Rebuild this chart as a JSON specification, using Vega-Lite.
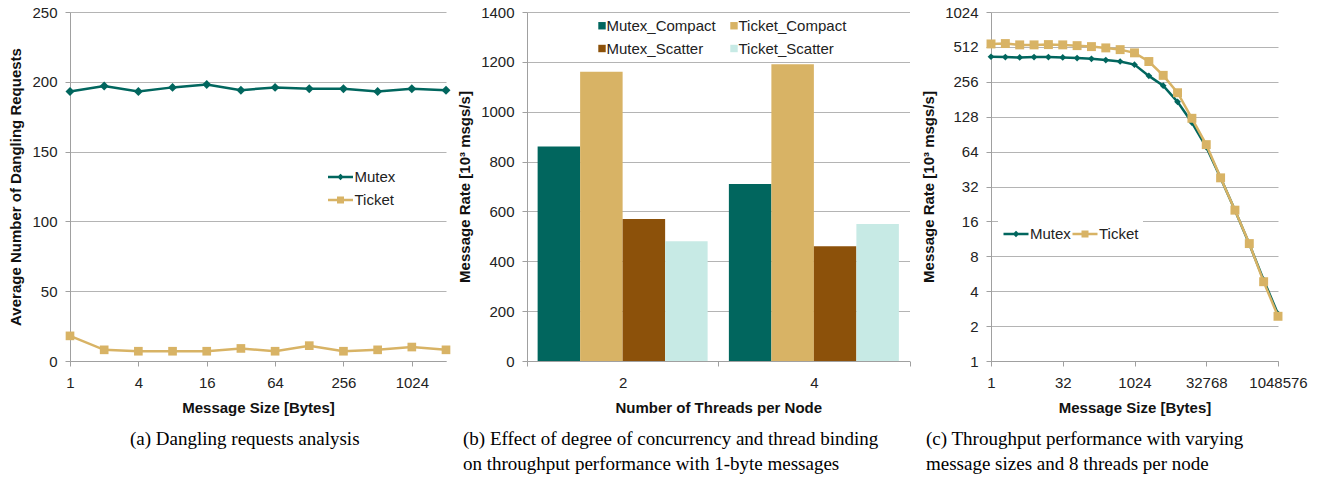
{
  "$schema": "https://vega.github.io/schema/vega-lite/v6.json",
  "background": "white",
  "padding": {"left": 8, "top": 5, "right": 5, "bottom": 5},
  "bounds": "flush",
  "spacing": 81,
  "resolve": {"scale": {"color": "independent", "shape": "independent"}, "legend": {"color": "independent", "shape": "independent"}},
  "config": {
    "font": "Liberation Sans",
    "view": {"stroke": null},
    "axis": {
      "labelFont": "Liberation Sans", "labelFontSize": 15, "labelColor": "#222",
      "titleFont": "Liberation Sans", "titleFontSize": 15, "titleFontWeight": "bold", "titleColor": "#111",
      "gridColor": "#b4b4b4", "gridWidth": 1, "domainColor": "#a0a0a0", "tickColor": "#a0a0a0", "tickSize": 5,
      "labelFlush": false
    },
    "axisY": {"labelPadding": 8, "titlePadding": 8},
    "axisX": {"labelPadding": 9, "titlePadding": 10, "labelAngle": 0},
    "legend": {"labelFont": "Liberation Sans", "labelFontSize": 15, "labelColor": "#222", "fillColor": "white"},
    "title": {"font": "Liberation Serif", "fontSize": 19, "fontWeight": "normal", "color": "#000", "orient": "bottom", "anchor": "start", "frame": "group", "lineHeight": 25, "offset": 15}
  },
  "hconcat": [
    {
      "width": 376, "height": 349,
      "title": {"text": "(a) Dangling requests analysis", "dx": 60},
      "data": {"values": [
        {"size": 1, "series": "Mutex", "value": 193}, {"size": 2, "series": "Mutex", "value": 197},
        {"size": 4, "series": "Mutex", "value": 193}, {"size": 8, "series": "Mutex", "value": 196},
        {"size": 16, "series": "Mutex", "value": 198}, {"size": 32, "series": "Mutex", "value": 194},
        {"size": 64, "series": "Mutex", "value": 196}, {"size": 128, "series": "Mutex", "value": 195},
        {"size": 256, "series": "Mutex", "value": 195}, {"size": 512, "series": "Mutex", "value": 193},
        {"size": 1024, "series": "Mutex", "value": 195}, {"size": 2048, "series": "Mutex", "value": 194},
        {"size": 1, "series": "Ticket", "value": 18}, {"size": 2, "series": "Ticket", "value": 8},
        {"size": 4, "series": "Ticket", "value": 7}, {"size": 8, "series": "Ticket", "value": 7},
        {"size": 16, "series": "Ticket", "value": 7}, {"size": 32, "series": "Ticket", "value": 9},
        {"size": 64, "series": "Ticket", "value": 7}, {"size": 128, "series": "Ticket", "value": 11},
        {"size": 256, "series": "Ticket", "value": 7}, {"size": 512, "series": "Ticket", "value": 8},
        {"size": 1024, "series": "Ticket", "value": 10}, {"size": 2048, "series": "Ticket", "value": 8}
      ]},
      "encoding": {
        "x": {"field": "size", "type": "quantitative", "scale": {"type": "log", "base": 2, "domain": [1, 2048], "nice": false},
              "axis": {"values": [1, 4, 16, 64, 256, 1024], "format": "d", "grid": false, "title": "Message Size [Bytes]"}},
        "y": {"field": "value", "type": "quantitative", "scale": {"domain": [0, 250], "nice": false},
              "axis": {"values": [0, 50, 100, 150, 200, 250], "format": "d", "title": "Average Number of Dangling Requests"}},
        "color": {"field": "series", "type": "nominal",
                  "scale": {"domain": ["Mutex", "Ticket"], "range": ["#01665e", "#d8b365"]},
                  "legend": {"orient": "none", "legendX": 252.5, "legendY": 147, "direction": "vertical", "title": null,
                             "symbolSize": 625, "symbolStrokeWidth": 2.5, "rowPadding": 1, "padding": 4, "labelOffset": 0}}
      },
      "layer": [
        {"transform": [{"filter": "datum.series === 'Mutex'"}], "mark": {"type": "line", "strokeWidth": 2.5}},
        {"transform": [{"filter": "datum.series === 'Mutex'"}], "mark": {"type": "point", "shape": "diamond", "filled": true, "size": 80, "opacity": 1}},
        {"transform": [{"filter": "datum.series === 'Ticket'"}], "mark": {"type": "line", "strokeWidth": 2.5}},
        {"transform": [{"filter": "datum.series === 'Ticket'"}], "mark": {"type": "point", "shape": "square", "filled": true, "size": 75, "opacity": 1}},
        {"transform": [{"filter": "false"}], "mark": {"type": "point", "filled": false, "opacity": 1, "strokeWidth": 2.5},
         "encoding": {"shape": {"field": "series", "type": "nominal",
           "scale": {"domain": ["Mutex", "Ticket"], "range": ["M-1,0H1M0,-0.12L0.12,0L0,0.12L-0.12,0Z", "M-1,0H1M-0.28,-0.18H0.28M-0.28,-0.09H0.28M-0.28,0.09H0.28M-0.28,0.18H0.28"]},
           "legend": {"orient": "none", "legendX": 252.5, "legendY": 147, "direction": "vertical", "title": null,
                      "symbolSize": 625, "symbolStrokeWidth": 2.5, "rowPadding": 1, "padding": 4, "labelOffset": 0}}}}
      ]
    },
    {
      "width": 382.5, "height": 349,
      "title": {"text": ["(b) Effect of degree of concurrency and thread binding", "on throughput performance with 1-byte messages"], "dx": -64},
      "data": {"values": [
        {"threads": "2", "series": "Mutex_Compact", "rate": 860},
        {"threads": "2", "series": "Ticket_Compact", "rate": 1160},
        {"threads": "2", "series": "Mutex_Scatter", "rate": 570},
        {"threads": "2", "series": "Ticket_Scatter", "rate": 480},
        {"threads": "4", "series": "Mutex_Compact", "rate": 710},
        {"threads": "4", "series": "Ticket_Compact", "rate": 1190},
        {"threads": "4", "series": "Mutex_Scatter", "rate": 460},
        {"threads": "4", "series": "Ticket_Scatter", "rate": 550}
      ]},
      "mark": {"type": "bar"},
      "encoding": {
        "x": {"field": "threads", "type": "ordinal", "scale": {"paddingInner": 0, "paddingOuter": 0},
              "axis": {"title": "Number of Threads per Node", "tickBand": "extent", "grid": false}},
        "xOffset": {"field": "series", "type": "nominal", "sort": ["Mutex_Compact", "Ticket_Compact", "Mutex_Scatter", "Ticket_Scatter"],
                    "scale": {"paddingInner": 0, "paddingOuter": 0.25}},
        "y": {"field": "rate", "type": "quantitative", "scale": {"domain": [0, 1400], "nice": false},
              "axis": {"values": [0, 200, 400, 600, 800, 1000, 1200, 1400], "format": "d", "title": "Message Rate [10³ msgs/s]"}},
        "color": {"field": "series", "type": "nominal",
                  "scale": {"domain": ["Mutex_Compact", "Mutex_Scatter", "Ticket_Compact", "Ticket_Scatter"],
                            "range": ["#01665e", "#8c510a", "#d8b365", "#c7eae5"]},
                  "legend": {"orient": "none", "legendX": 63.5, "legendY": 2, "columns": 2, "symbolType": "square", "title": null,
                             "symbolSize": 55, "rowPadding": 7, "columnPadding": 10, "padding": 4, "labelOffset": -3}}
      }
    },
    {
      "width": 287, "height": 349,
      "title": {"text": ["(c) Throughput performance with varying", "message sizes and 8 threads per node"], "dx": -65},
      "data": {"values": [
        {"size": 1, "series": "Mutex", "rate": 421}, {"size": 2, "series": "Mutex", "rate": 418},
        {"size": 4, "series": "Mutex", "rate": 415}, {"size": 8, "series": "Mutex", "rate": 418},
        {"size": 16, "series": "Mutex", "rate": 418}, {"size": 32, "series": "Mutex", "rate": 415},
        {"size": 64, "series": "Mutex", "rate": 410}, {"size": 128, "series": "Mutex", "rate": 404},
        {"size": 256, "series": "Mutex", "rate": 394}, {"size": 512, "series": "Mutex", "rate": 383},
        {"size": 1024, "series": "Mutex", "rate": 360}, {"size": 2048, "series": "Mutex", "rate": 288},
        {"size": 4096, "series": "Mutex", "rate": 237}, {"size": 8192, "series": "Mutex", "rate": 172},
        {"size": 16384, "series": "Mutex", "rate": 114}, {"size": 32768, "series": "Mutex", "rate": 70},
        {"size": 65536, "series": "Mutex", "rate": 38}, {"size": 131072, "series": "Mutex", "rate": 20},
        {"size": 262144, "series": "Mutex", "rate": 10.2}, {"size": 524288, "series": "Mutex", "rate": 5.0},
        {"size": 1048576, "series": "Mutex", "rate": 2.55},
        {"size": 1, "series": "Ticket", "rate": 543}, {"size": 2, "series": "Ticket", "rate": 547},
        {"size": 4, "series": "Ticket", "rate": 533}, {"size": 8, "series": "Ticket", "rate": 533},
        {"size": 16, "series": "Ticket", "rate": 536}, {"size": 32, "series": "Ticket", "rate": 533},
        {"size": 64, "series": "Ticket", "rate": 525}, {"size": 128, "series": "Ticket", "rate": 515},
        {"size": 256, "series": "Ticket", "rate": 502}, {"size": 512, "series": "Ticket", "rate": 485},
        {"size": 1024, "series": "Ticket", "rate": 455}, {"size": 2048, "series": "Ticket", "rate": 383},
        {"size": 4096, "series": "Ticket", "rate": 291}, {"size": 8192, "series": "Ticket", "rate": 206},
        {"size": 16384, "series": "Ticket", "rate": 124}, {"size": 32768, "series": "Ticket", "rate": 73.5},
        {"size": 65536, "series": "Ticket", "rate": 38}, {"size": 131072, "series": "Ticket", "rate": 20},
        {"size": 262144, "series": "Ticket", "rate": 10.3}, {"size": 524288, "series": "Ticket", "rate": 4.83},
        {"size": 1048576, "series": "Ticket", "rate": 2.43}
      ]},
      "encoding": {
        "x": {"field": "size", "type": "quantitative", "scale": {"type": "log", "base": 2, "domain": [1, 1048576], "nice": false},
              "axis": {"values": [1, 32, 1024, 32768, 1048576], "format": "d", "grid": false, "labelOverlap": false, "title": "Message Size [Bytes]"}},
        "y": {"field": "rate", "type": "quantitative", "scale": {"type": "log", "base": 2, "domain": [1, 1024], "nice": false},
              "axis": {"values": [1, 2, 4, 8, 16, 32, 64, 128, 256, 512, 1024], "format": "d", "title": "Message Rate [10³ msgs/s]"}},
        "color": {"field": "series", "type": "nominal",
                  "scale": {"domain": ["Mutex", "Ticket"], "range": ["#01665e", "#d8b365"]},
                  "legend": {"orient": "none", "legendX": 7, "legendY": 204, "direction": "horizontal", "title": null,
                             "symbolSize": 625, "symbolStrokeWidth": 2.5, "columnPadding": -8, "padding": 4, "labelOffset": 0}}
      },
      "layer": [
        {"transform": [{"filter": "datum.series === 'Mutex'"}], "mark": {"type": "line", "strokeWidth": 2.5}},
        {"transform": [{"filter": "datum.series === 'Mutex'"}], "mark": {"type": "point", "shape": "diamond", "filled": true, "size": 45, "opacity": 1}},
        {"transform": [{"filter": "datum.series === 'Ticket'"}], "mark": {"type": "line", "strokeWidth": 2.5}},
        {"transform": [{"filter": "datum.series === 'Ticket'"}], "mark": {"type": "point", "shape": "square", "filled": true, "size": 80, "opacity": 1}},
        {"transform": [{"filter": "false"}], "mark": {"type": "point", "filled": false, "opacity": 1, "strokeWidth": 2.5},
         "encoding": {"shape": {"field": "series", "type": "nominal",
           "scale": {"domain": ["Mutex", "Ticket"], "range": ["M-1,0H1M0,-0.12L0.12,0L0,0.12L-0.12,0Z", "M-1,0H1M-0.28,-0.18H0.28M-0.28,-0.09H0.28M-0.28,0.09H0.28M-0.28,0.18H0.28"]},
           "legend": {"orient": "none", "legendX": 7, "legendY": 204, "direction": "horizontal", "title": null,
                      "symbolSize": 625, "symbolStrokeWidth": 2.5, "columnPadding": -8, "padding": 4, "labelOffset": 0}}}}
      ]
    }
  ]
}
